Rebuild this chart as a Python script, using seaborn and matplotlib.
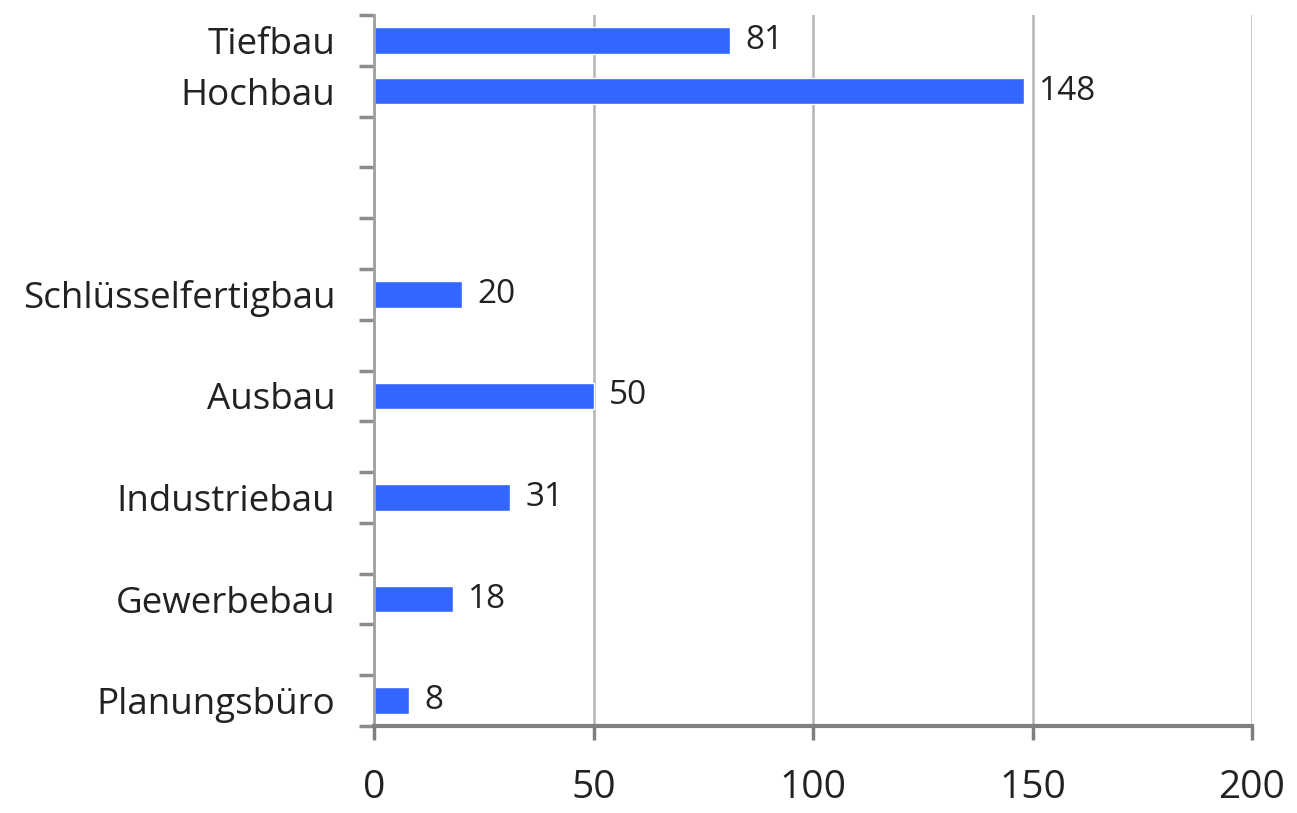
import matplotlib
matplotlib.use("Agg")
import matplotlib.pyplot as plt
import seaborn as sns
import pandas as pd
import numpy as np
from matplotlib.ticker import FixedLocator

# slots top to bottom, the "gap" rows are empty category rows in the original chart
slots = ["Tiefbau", "Hochbau", "gap1", "gap2", "gap3", "Schlüsselfertigbau", "gap4",
         "Ausbau", "gap5", "Industriebau", "gap6", "Gewerbebau", "gap7", "Planungsbüro"]
branches = ["Tiefbau", "Hochbau", "Schlüsselfertigbau", "Ausbau",
            "Industriebau", "Gewerbebau", "Planungsbüro"]
counts = [81, 148, 20, 50, 31, 18, 8]
x_ticks = [0, 50, 100, 150, 200]

sns.set_theme(style="white")
plt.rcParams['font.family'] = ['Open Sans', 'DejaVu Sans']
plt.rcParams['text.color'] = '#222222'

df = pd.DataFrame({"branche": branches, "anzahl": counts})

fig = plt.figure(figsize=(12.97, 8.13), dpi=100)
ax = fig.add_axes([0.2884, 0.107, 0.6769, 0.8745])

sns.barplot(data=df, y="branche", x="anzahl", order=slots, orient="h",
            color="#3366ff", saturation=1, width=0.52, ax=ax)
ax.bar_label(ax.containers[0], padding=11, fontsize=24, color="#222222")

# axes, ticks and grid
ax.set_xlim(0, 200)
ax.set_ylim(13.5, -0.5)
ax.set_xticks(x_ticks)
ax.set_xticklabels([str(t) for t in x_ticks], fontsize=28, color="#222222")
ax.set_yticks(range(len(slots)))
ax.set_yticklabels(["" if s.startswith("gap") else s for s in slots],
                   fontsize=26.5, color="#222222")
ax.yaxis.set_minor_locator(FixedLocator(np.arange(-0.5, len(slots), 1)))

ax.tick_params(axis="y", which="major", length=0, pad=28)
ax.tick_params(axis="y", which="minor", left=True, length=11, width=2.5,
               color="#8c8c8c", direction="out")
ax.tick_params(axis="x", which="major", bottom=True, length=10, width=2.5,
               color="#7f7f7f", direction="out", pad=21)

ax.grid(axis="x", color="#b4b4b4", lw=1.8)
ax.set_axisbelow(True)
ax.set_xlabel("")
ax.set_ylabel("")

for s in ["top", "right"]:
    ax.spines[s].set_visible(False)
ax.spines["left"].set_color("#a0a0a0")
ax.spines["left"].set_linewidth(2)
ax.spines["bottom"].set_color("#7f7f7f")
ax.spines["bottom"].set_linewidth(3)

fig.savefig("out.png", dpi=100)
